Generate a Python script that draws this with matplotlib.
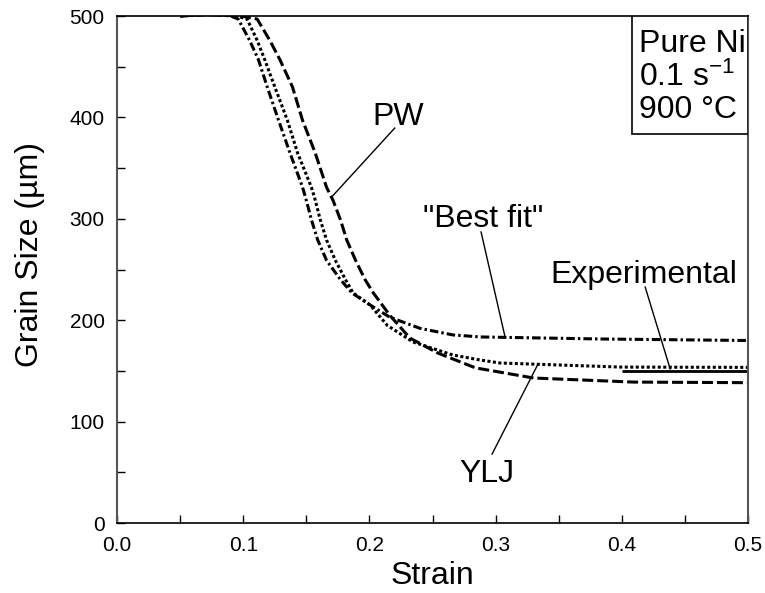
"""Grain size vs strain for pure Ni, comparing model fits with the experimental value."""

import matplotlib

matplotlib.use("Agg")
import matplotlib.pyplot as plt
from matplotlib.patches import Rectangle
from matplotlib.ticker import FormatStrFormatter, MultipleLocator

# Values
strain_best = [0.050, 0.070, 0.083, 0.090, 0.096, 0.105, 0.112, 0.119, 0.128, 0.137,
               0.147, 0.150, 0.154, 0.159, 0.166, 0.177, 0.186, 0.198, 0.216, 0.240,
               0.266, 0.288, 0.383, 0.500]
size_best = [500, 501.5, 501, 500, 497, 476, 457, 430, 397, 365,
             331, 318, 299, 279, 259, 240, 227, 217, 203, 192,
             185.5, 183.5, 181.5, 180]

strain_ylj = [0.050, 0.070, 0.083, 0.095, 0.103, 0.111, 0.117, 0.125, 0.135, 0.143,
              0.154, 0.157, 0.161, 0.166, 0.173, 0.181, 0.187, 0.2005, 0.214, 0.2345,
              0.266, 0.288, 0.3035, 0.399, 0.500]
size_ylj = [500, 501.5, 501, 500, 497, 476, 457, 430, 397, 365,
            331, 318.5, 299, 279, 259, 240, 227, 215, 195, 178.5,
            165.7, 160.7, 157.8, 153.8, 153.5]

strain_pw = [0.050, 0.070, 0.083, 0.098, 0.111, 0.121, 0.129, 0.139, 0.147, 0.157,
             0.166, 0.171, 0.177, 0.182, 0.189, 0.1965, 0.203, 0.216, 0.232, 0.254,
             0.284, 0.330, 0.409, 0.500]
size_pw = [500, 501.5, 501, 500, 497, 476, 457, 430, 397, 365,
           331, 318.5, 299, 279, 259, 240, 227, 205, 182.4, 167.7,
           153, 143, 139, 138.4]

strain_exp = [0.4, 0.5]
size_exp = [150, 150]

inset_lines = ["Pure Ni", "0.1 s$^{-1}$", "900 \u00b0C"]


def main() -> None:
    plt.rcParams["font.family"] = ["Liberation Sans", "DejaVu Sans"]
    plt.rcParams["mathtext.fontset"] = "custom"
    plt.rcParams["mathtext.rm"] = "Liberation Sans"
    plt.rcParams["mathtext.default"] = "regular"

    fig = plt.figure(figsize=(7.65, 5.93), dpi=100)
    ax = fig.add_axes([0.153, 0.118, 0.825, 0.855])

    lw = 2.2
    ax.plot(strain_best, size_best, color="black", lw=lw,
            linestyle=(0, (2.8, 1.0, 0.8, 1.0)))
    ax.plot(strain_ylj, size_ylj, color="black", lw=lw,
            linestyle=(0, (1.0, 0.8)))
    ax.plot(strain_pw, size_pw, color="black", lw=lw,
            linestyle=(0, (3.6, 1.3)))
    ax.plot(strain_exp, size_exp, color="black", lw=2.0, solid_capstyle="butt")

    ax.set_xlim(0, 0.5)
    ax.set_ylim(0, 500)
    ax.xaxis.set_major_locator(MultipleLocator(0.1))
    ax.xaxis.set_minor_locator(MultipleLocator(0.05))
    ax.yaxis.set_major_locator(MultipleLocator(100))
    ax.yaxis.set_minor_locator(MultipleLocator(50))
    ax.xaxis.set_major_formatter(FormatStrFormatter("%.1f"))
    ax.tick_params(which="both", direction="in", length=6, width=1,
                   top=False, right=False, labelsize=15)
    ax.tick_params(axis="y", pad=9)
    ax.tick_params(axis="x", pad=9)
    for side in ("left", "right"):
        ax.spines[side].set_color("#555555")
        ax.spines[side].set_linewidth(1.5)
    for side in ("top", "bottom"):
        ax.spines[side].set_color("black")
        ax.spines[side].set_linewidth(1.2)

    fs = 23
    ax.set_xlabel("Strain", fontsize=fs)
    ax.set_ylabel("Grain Size (\u00b5m)", fontsize=fs)
    ax.xaxis.set_label_coords(0.5, -0.075)
    ax.yaxis.set_label_coords(-0.114, 0.53)

    # curve labels and leader lines
    ax.text(0.2225, 392.5, "PW", fontsize=fs, ha="center", va="baseline")
    ax.plot([0.220, 0.170], [389.5, 321.5], color="black", lw=1)
    ax.text(0.290, 292, '"Best fit"', fontsize=fs, ha="center", va="baseline")
    ax.plot([0.2884, 0.3074], [287, 183.4], color="black", lw=1)
    ax.text(0.417, 237, "Experimental", fontsize=fs, ha="center", va="baseline")
    ax.plot([0.4184, 0.4382], [232.7, 152], color="black", lw=1)
    ax.text(0.2932, 40.5, "YLJ", fontsize=fs, ha="center", va="baseline")
    ax.plot([0.2971, 0.3336], [68, 157], color="black", lw=1)

    # condition box, top right
    ax.add_patch(Rectangle((0.816, 0.767), 0.184, 0.233, transform=ax.transAxes,
                           facecolor="white", edgecolor="black", lw=1.2, zorder=3))
    for text, ypos in zip(inset_lines, (0.929, 0.862, 0.799)):
        ax.text(0.827, ypos, text, transform=ax.transAxes, fontsize=fs,
                ha="left", va="baseline", zorder=4)

    fig.savefig("out.png", dpi=100)
    plt.close(fig)


if __name__ == "__main__":
    main()
